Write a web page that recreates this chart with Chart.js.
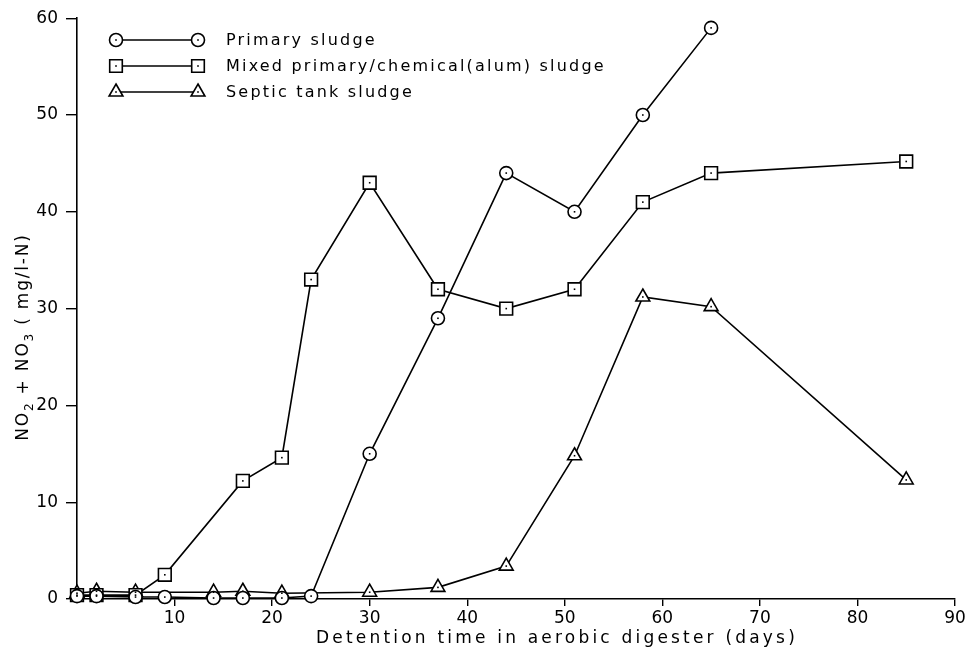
<!DOCTYPE html>
<html>
<head>
<meta charset="utf-8">
<script src="https://cdn.jsdelivr.net/npm/chart.js@4/dist/chart.umd.min.js"></script>
<style>
  html, body { margin: 0; padding: 0; background: #fff; }
  #wrap { width: 968px; height: 665px; }
</style>
</head>
<body>
<div id="wrap"><canvas id="myChart" width="968" height="665"></canvas></div>
<script>
// values
let primaryDays = [0, 2, 6, 9, 14, 17, 21, 24, 30, 37, 44, 51, 58, 65]
let primaryN = [0.3, 0.3, 0.2, 0.2, 0.1, 0.1, 0.1, 0.3, 15, 29, 44, 40, 50, 59]
let mixedDays = [0, 2, 6, 9, 17, 21, 24, 30, 37, 44, 51, 58, 65, 85]
let mixedN = [0.4, 0.4, 0.4, 2.5, 12.2, 14.6, 33, 43, 32, 30, 32, 41, 44, 45.2]
let septicDays = [0, 2, 6, 14, 17, 21, 30, 37, 44, 51, 58, 65, 85]
let septicN = [0.6, 0.8, 0.7, 0.7, 0.8, 0.6, 0.7, 1.2, 3.4, 14.8, 31.2, 30.2, 12.3]
let labels = ['Primary sludge', 'Mixed primary/chemical(alum) sludge', 'Septic tank sludge']
let xTicks = [10, 20, 30, 40, 50, 60, 70, 80, 90]
let yTicks = [0, 10, 20, 30, 40, 50, 60]

let fontFam = '"DejaVu Sans", sans-serif'
let pts = (xs, ys) => xs.map((x, i) => ({ x: x, y: ys[i] }))

let styles = ['circle', 'rect', 'triangle']
let radii = [6.5, 9, 8]

function marker(ctx, style, x, y) {
    ctx.beginPath()
    if (style === 'circle') {
        ctx.arc(x, y, 6.5, 0, Math.PI * 2)
    } else if (style === 'rect') {
        ctx.rect(x - 6.3, y - 6.3, 12.6, 12.6)
    } else {
        ctx.moveTo(x, y - 8)
        ctx.lineTo(x + 6.9, y + 4)
        ctx.lineTo(x - 6.9, y + 4)
        ctx.closePath()
    }
    ctx.fillStyle = '#fff'
    ctx.fill()
    ctx.lineWidth = 1.6
    ctx.strokeStyle = '#000'
    ctx.stroke()
    ctx.fillStyle = '#000'
    ctx.fillRect(x - 0.8, y - 0.8, 1.6, 1.6)
}

let decorations = {
    id: 'decorations',
    afterDatasetsDraw(chart) {
        let ctx = chart.ctx
        ctx.save()
        // dot in the middle of every marker
        chart.data.datasets.forEach((ds, i) => {
            chart.getDatasetMeta(i).data.forEach(p => {
                ctx.fillStyle = '#000'
                ctx.fillRect(p.x - 0.8, p.y - 0.8, 1.6, 1.6)
            })
        })
        // legend: marker —— marker  label
        chart.data.datasets.forEach((ds, i) => {
            let y = 40 + i * 26
            ctx.beginPath()
            ctx.moveTo(116, y)
            ctx.lineTo(198, y)
            ctx.lineWidth = 1.4
            ctx.strokeStyle = '#000'
            ctx.stroke()
            marker(ctx, styles[i], 116, y)
            marker(ctx, styles[i], 198, y)
            ctx.fillStyle = '#000'
            ctx.font = '16px ' + fontFam
            ctx.letterSpacing = '2.2px'
            ctx.textBaseline = 'middle'
            ctx.textAlign = 'left'
            ctx.fillText(ds.label, 226, y + 1)
        })
        // x axis title
        ctx.font = '17px ' + fontFam
        ctx.letterSpacing = '3.2px'
        ctx.textAlign = 'center'
        ctx.textBaseline = 'alphabetic'
        ctx.fillText('Detention time in aerobic digester (days)', 557, 643)
        // y axis title with subscripts
        ctx.translate(28, 337)
        ctx.rotate(-Math.PI / 2)
        let parts = [['NO', 0], ['2', 1], [' + NO', 0], ['3', 1], [' ( mg/l-N)', 0]]
        ctx.letterSpacing = '1.8px'
        let total = 0
        parts.forEach(p => {
            ctx.font = (p[1] ? '12px ' : '17px ') + fontFam
            total += ctx.measureText(p[0]).width
        })
        let cx = -total / 2
        ctx.textAlign = 'left'
        parts.forEach(p => {
            ctx.font = (p[1] ? '12px ' : '17px ') + fontFam
            ctx.fillText(p[0], cx, p[1] ? 5 : 0)
            cx += ctx.measureText(p[0]).width
        })
        ctx.restore()
    }
}

let ctx = document.getElementById('myChart').getContext('2d')

let myChart = new Chart(ctx, {
    type: 'line',
    data: {
        datasets: [
            { label: labels[0], data: pts(primaryDays, primaryN) },
            { label: labels[1], data: pts(mixedDays, mixedN) },
            { label: labels[2], data: pts(septicDays, septicN) }
        ].map((d, i) => Object.assign(d, {
            borderColor: '#000',
            borderWidth: 1.6,
            pointStyle: styles[i],
            pointRadius: radii[i],
            pointBackgroundColor: '#fff',
            pointBorderColor: '#000',
            pointBorderWidth: 1.6,
            tension: 0,
            clip: false
        }))
    },
    options: {
        responsive: false,
        animation: false,
        layout: {
            padding: { left: 0, right: 13, top: 17, bottom: 0 }
        },
        plugins: {
            legend: { display: false },
            tooltip: { enabled: false }
        },
        scales: {
            x: {
                type: 'linear',
                min: 0,
                max: 90,
                afterBuildTicks: (scale) => {
                    scale.ticks = xTicks.map(v => ({ value: v }))
                },
                afterFit: (scale) => { scale.height = 66 },
                grid: {
                    drawOnChartArea: false,
                    color: '#000',
                    lineWidth: 1.4,
                    tickLength: 7
                },
                border: { color: '#000', width: 1.6 },
                ticks: {
                    color: '#000',
                    padding: 2,
                    maxRotation: 0,
                    font: { family: fontFam, size: 17 }
                }
            },
            y: {
                min: 0,
                max: 60,
                afterBuildTicks: (scale) => {
                    scale.ticks = yTicks.map(v => ({ value: v }))
                },
                afterFit: (scale) => { scale.width = 77 },
                grid: {
                    drawOnChartArea: false,
                    color: '#000',
                    lineWidth: 1.4,
                    tickLength: 11
                },
                border: { color: '#000', width: 1.6 },
                ticks: {
                    color: '#000',
                    padding: 8,
                    font: { family: fontFam, size: 17 }
                }
            }
        }
    },
    plugins: [decorations]
})
</script>
</body>
</html>
